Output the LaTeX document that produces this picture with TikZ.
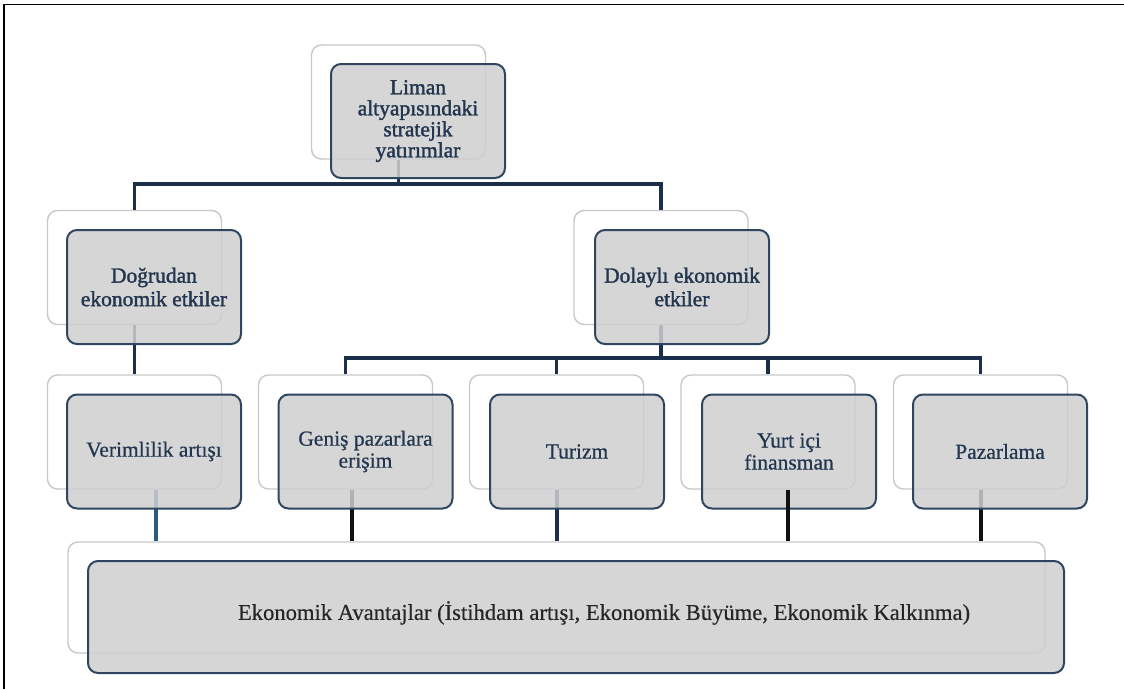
\documentclass[tikz,border=0pt]{standalone}
\usepackage{fontspec}
\setmainfont{Liberation Serif}
\definecolor{ghostc}{HTML}{C8C8C8}
\definecolor{frontc}{HTML}{2E4660}
\definecolor{fillc}{HTML}{CFCFD1}
\definecolor{textc}{HTML}{22364F}
\definecolor{linec}{HTML}{1C2F4A}
\definecolor{lineblue}{HTML}{2A5B85}
\definecolor{lineblack}{HTML}{111111}
\tikzset{
  ghostbox/.style={draw=ghostc, line width=1.4pt, rounded corners=10pt,
    minimum width=174pt, minimum height=114pt, inner sep=0pt},
  frontbox/.style={draw=frontc, line width=2pt, fill=fillc, fill opacity=0.85,
    text opacity=1, rounded corners=10pt, minimum width=174pt, minimum height=114pt,
    inner sep=0pt, align=center, text=textc,
    font=\fontsize{21.5}{22}\selectfont\addfontfeature{FakeBold=0.6}},
  topfont/.style={font=\fontsize{21.5}{21}\selectfont\addfontfeature{FakeBold=1.6}},
  midfont/.style={font=\fontsize{21.5}{23.5}\selectfont\addfontfeature{FakeBold=1.6}},
  conn/.style={draw=linec, line width=3.2pt},
  connblue/.style={draw=lineblue, line width=3.2pt},
  connblack/.style={draw=lineblack, line width=3.2pt},
  frame/.style={draw=black, line width=1.8pt}
}
\begin{document}
\begin{tikzpicture}[x=1pt,y=-1pt]
\useasboundingbox[fill=white] (0,0) rectangle (1124,689);
\draw[frame] (4,689) -- (4,4.5) -- (1124,4.5);

% ghost boxes
\node[ghostbox] (gtop) at (398.5,102) {};
\node[ghostbox] (gdog) at (134.5,267.5) {};
\node[ghostbox] (gdol) at (661,267.5) {};
\node[ghostbox] (gver) at (134.5,432) {};
\node[ghostbox] (ggen) at (345.5,432) {};
\node[ghostbox] (gtur) at (556.5,432) {};
\node[ghostbox] (gyur) at (768,432) {};
\node[ghostbox] (gpaz) at (980.5,432) {};
\node[ghostbox, minimum width=977pt, minimum height=111pt] (gbot) at (556.5,597.5) {};

% junction coordinates
\coordinate (j1) at (398.5,184);
\coordinate (j2) at (661,358);

% connectors
\draw[conn] (gtop.south) -- (j1);
\draw[conn] (gdog.north) -- (gdog.north |- j1) -| (gdol.north);
\draw[conn] (gdog.south) -- (gver.north);
\draw[conn] (gdol.south) -- (j2);
\draw[conn] (ggen.north) -- (ggen.north |- j2) -| (gpaz.north);
\draw[conn] (gtur.north) -- (gtur.north |- j2);
\draw[conn] (gyur.north) -- (gyur.north |- j2);
\draw[connblue] ([xshift=21.5pt]gver.south) -- ([xshift=21.5pt]gver.south |- gbot.north);
\draw[connblack] ([xshift=6.5pt]ggen.south) -- ([xshift=6.5pt]ggen.south |- gbot.north);
\draw[conn] ([xshift=0.5pt]gtur.south) -- ([xshift=0.5pt]gtur.south |- gbot.north);
\draw[connblack] ([xshift=0.5pt]gpaz.south) -- ([xshift=0.5pt]gpaz.south |- gbot.north);

% front boxes
\node[frontbox, topfont] (top) at (418,121) {Liman\\altyapısındaki\\stratejik\\yatırımlar};
\node[frontbox, midfont] (dog) at (154,287) {Doğrudan\\ekonomik etkiler};
\node[frontbox, midfont] (dol) at (682,287) {Dolaylı ekonomik\\etkiler};
\node[frontbox] (ver) at (154,451.5) {Verimlilik artışı};
\node[frontbox] (gen) at (365.5,451.5) {Geniş pazarlara\\erişim};
\node[frontbox] (tur) at (577,451.5) {Turizm};
\node[frontbox] (yur) at (789,451.5) {Yurt içi\\finansman};
\node[frontbox] (paz) at (1000,451.5) {Pazarlama};
\node[frontbox, minimum width=976pt, minimum height=112pt] (bot) at (576,617) {};
\node[text=black!85, font=\fontsize{22.6}{23}\selectfont\addfontfeature{FakeBold=0.4}, inner sep=0pt] (botlabel) at (604,613)
  {Ekonomik Avantajlar (İstihdam artışı, Ekonomik Büyüme, Ekonomik Kalkınma)};

% connector drawn above its box
\draw[connblack] ([xshift=20pt]gyur.south) -- ([xshift=20pt]gyur.south |- gbot.north);
\end{tikzpicture}
\end{document}
